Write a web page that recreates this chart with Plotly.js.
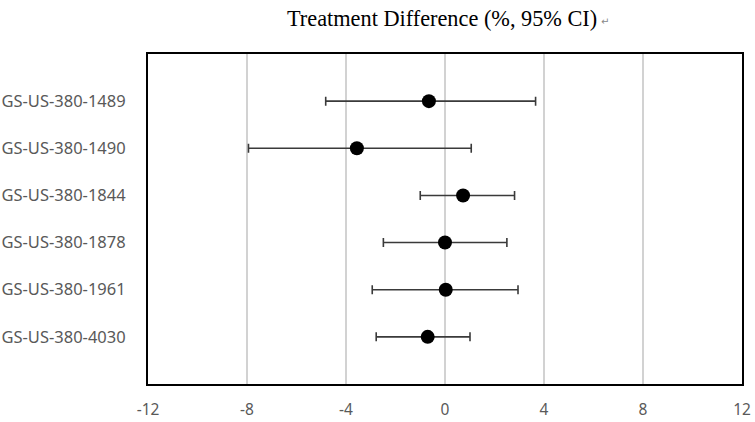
<!DOCTYPE html>
<html>
<head>
<meta charset="utf-8">
<script src="https://cdn.plot.ly/plotly-3.0.1.min.js"></script>
<style>html,body{margin:0;padding:0;background:#fff;}#chart{width:755px;height:422px;}</style>
</head>
<body>
<div id="chart"></div>
<script>
const studies = ["GS-US-380-1489","GS-US-380-1490","GS-US-380-1844","GS-US-380-1878","GS-US-380-1961","GS-US-380-4030"];
const estimate = [-0.65, -3.56, 0.73, 0.0, 0.03, -0.70];
const lowerCI  = [-4.82, -7.94, -1.0, -2.49, -2.94, -2.78];
const upperCI  = [3.66, 1.06, 2.81, 2.50, 2.95, 1.01];
const xTicks = [-12, -8, -4, 0, 4, 8, 12];
const titleText = "Treatment Difference (%, 95% CI)";

const rows = studies.map((s, i) => i + 1);
const trace = {
  type: "scatter",
  mode: "markers",
  x: estimate,
  y: rows,
  marker: {color: "#000000", size: 14},
  error_x: {
    type: "data",
    symmetric: false,
    array: upperCI.map((u, i) => u - estimate[i]),
    arrayminus: lowerCI.map((l, i) => estimate[i] - l),
    color: "#3a3a3a",
    thickness: 1.6,
    width: 4.5
  },
  hoverinfo: "skip",
  showlegend: false
};

const layout = {
  width: 755, height: 422,
  margin: {l: 148, r: 13, t: 54, b: 38},
  paper_bgcolor: "#ffffff",
  plot_bgcolor: "#ffffff",
  showlegend: false,
  xaxis: {
    range: [-12, 12],
    tickvals: xTicks,
    ticktext: xTicks.map(String),
    showgrid: true,
    gridcolor: "#d2d2d2",
    gridwidth: 1.5,
    zeroline: false,
    showline: true,
    linecolor: "#000000",
    linewidth: 2,
    mirror: true,
    ticks: "",
    ticklabelstandoff: 10,
    tickfont: {family: "Noto Sans, sans-serif", size: 15.5, color: "#595959"}
  },
  yaxis: {
    range: [7, 0],
    tickvals: rows,
    ticktext: studies,
    showgrid: false,
    zeroline: false,
    showline: true,
    linecolor: "#000000",
    linewidth: 2,
    mirror: true,
    ticks: "",
    ticklabelstandoff: 17,
    tickfont: {family: "Noto Sans, sans-serif", size: 16.5, color: "#595959"}
  },
  annotations: [
    {
      text: titleText,
      xref: "paper", yref: "paper",
      x: 0.495, y: 1, yshift: 36,
      xanchor: "center", yanchor: "middle",
      showarrow: false,
      font: {family: "Liberation Serif, Times New Roman, serif", size: 22.3, color: "#000000"}
    },
    {
      text: "↵",
      xref: "paper", yref: "paper",
      x: 0.495, y: 1, yshift: 33, xshift: 157,
      xanchor: "left", yanchor: "middle",
      showarrow: false,
      font: {family: "DejaVu Sans, sans-serif", size: 10, color: "#888888"}
    }
  ]
};

Plotly.newPlot("chart", [trace], layout, {displayModeBar: false, staticPlot: true});
</script>
</body>
</html>
